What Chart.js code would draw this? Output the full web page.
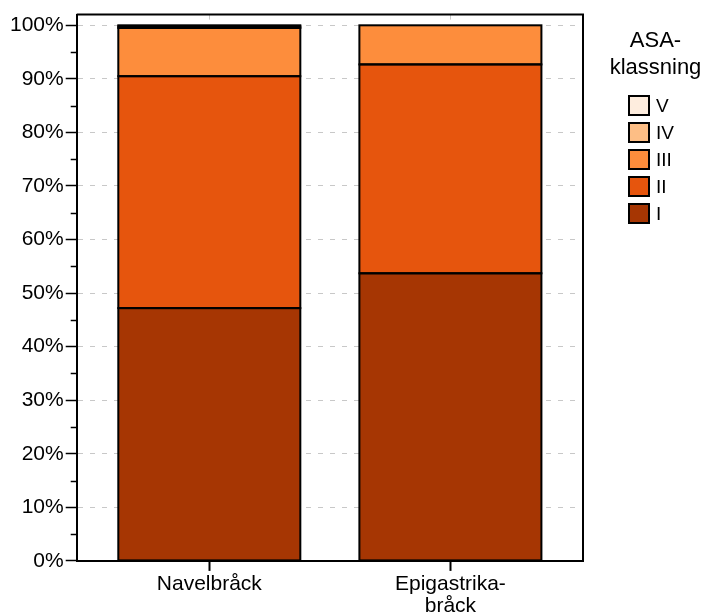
<!DOCTYPE html>
<html>
<head>
<meta charset="utf-8">
<script src="https://cdn.jsdelivr.net/npm/chart.js@4/dist/chart.umd.min.js"></script>
<style>
  body { margin: 0; background: #fff; font-family: "Liberation Sans", Arial, sans-serif; }
  #wrap { position: relative; width: 705px; height: 615px; overflow: hidden; }
  #legend { position: absolute; left: 600px; top: 26px; width: 105px; color: #000; }
  #legend .title { text-align: center; font-size: 22px; line-height: 27px; margin-left: 6px; }
  #legend ul { list-style: none; margin: 12px 0 0 28px; padding: 0; }
  #legend li { height: 27px; display: flex; align-items: center; font-size: 19px; }
  #legend li span.box { display: inline-block; width: 18px; height: 17px; border: 2px solid #000; margin-right: 6px; }
</style>
</head>
<body>
<div id="wrap">
  <canvas id="chart" width="705" height="615"></canvas>
  <div id="legend"></div>
</div>
<script>
// Data
const categories = ['Navelbråck', ['Epigastrika-', 'bråck']];
const classI   = [47.2, 53.7];
const classII  = [43.3, 39.0];
const classIII = [9.0, 7.3];
const classIV  = [0.3, 0];
const classV   = [0.2, 0];
const yTickValues = [0, 10, 20, 30, 40, 50, 60, 70, 80, 90, 100];
const yMinorTicks = [5, 15, 25, 35, 45, 55, 65, 75, 85, 95];
const legendTitle = ['ASA-', 'klassning'];

const seriesList = [
    { label: 'I',   data: classI,   color: '#A63603' },
    { label: 'II',  data: classII,  color: '#E6550D' },
    { label: 'III', data: classIII, color: '#FD8D3C' },
    { label: 'IV',  data: classIV,  color: '#FDBE85' },
    { label: 'V',   data: classV,   color: '#FEEDDE' }
];

const FONT = '"Liberation Sans", Arial, sans-serif';
const GRID = '#c8c8c8';

// svarta konturer runt varje stapelsegment (jämn linjebredd)
const outlinePlugin = {
    id: 'outline',
    afterDatasetsDraw(chart) {
        const ctx = chart.ctx;
        ctx.save();
        ctx.strokeStyle = '#000';
        ctx.lineWidth = 2;
        chart.data.datasets.forEach((ds, i) => {
            chart.getDatasetMeta(i).data.forEach(bar => {
                const h = bar.base - bar.y;
                if (Math.abs(h) < 0.01) return;
                ctx.strokeRect(bar.x - bar.width / 2, bar.y, bar.width, h);
            });
        });
        ctx.restore();
    }
};

// ram runt plotytan + korta mellanstreck på y-axeln
const framePlugin = {
    id: 'frame',
    afterDraw(chart) {
        const { ctx, chartArea } = chart;
        const y = chart.scales.y;
        ctx.save();
        ctx.strokeStyle = '#000';
        ctx.lineWidth = 2;
        ctx.beginPath();
        ctx.moveTo(chartArea.left, chartArea.top);
        ctx.lineTo(chartArea.right, chartArea.top);
        ctx.lineTo(chartArea.right, chartArea.bottom);
        ctx.stroke();
        ctx.lineWidth = 1.5;
        yMinorTicks.forEach(v => {
            const py = Math.round(y.getPixelForValue(v)) + 0.5;
            ctx.beginPath();
            ctx.moveTo(chartArea.left - 6, py);
            ctx.lineTo(chartArea.left, py);
            ctx.stroke();
        });
        ctx.restore();
    }
};

const chart = new Chart(document.getElementById('chart'), {
    type: 'bar',
    data: {
        labels: categories,
        datasets: seriesList.map(s => ({
            label: s.label,
            data: s.data,
            backgroundColor: s.color,
            borderWidth: 0,
            barPercentage: 0.755,
            categoryPercentage: 1
        }))
    },
    options: {
        responsive: false,
        animation: false,
        layout: { padding: { left: 8, right: 122, top: 4, bottom: -4 } },
        plugins: {
            legend: { display: false },
            tooltip: { enabled: false }
        },
        scales: {
            x: {
                stacked: true,
                offset: true,
                afterBuildTicks: scale => {
                    // lite extra luft utanför staplarna
                    scale._startValue = -0.55;
                    scale._valueRange = 2.1;
                },
                grid: {
                    offset: false,
                    color: GRID,
                    tickColor: '#000',
                    tickWidth: 2,
                    tickLength: 10
                },
                border: { color: '#000', width: 2, dash: [5, 7] },
                ticks: {
                    color: '#000',
                    font: { family: FONT, size: 21, lineHeight: 1.05 },
                    padding: 2,
                    maxRotation: 0
                }
            },
            y: {
                stacked: true,
                min: 0,
                max: 102,
                afterBuildTicks: scale => {
                    scale.ticks = yTickValues.map(v => ({ value: v }));
                },
                grid: {
                    color: ctx => ctx.tick && ctx.tick.value === 0 ? 'rgba(0,0,0,0)' : GRID,
                    tickColor: '#000',
                    tickWidth: 1.5,
                    tickLength: 11
                },
                border: { color: '#000', width: 2, dash: [5, 7] },
                ticks: {
                    color: '#000',
                    font: { family: FONT, size: 21 },
                    padding: 2,
                    callback: v => v + '%'
                }
            }
        }
    },
    plugins: [outlinePlugin, framePlugin]
});

// Förklaring (omvänd ordning, V överst)
const legendEl = document.getElementById('legend');
legendEl.innerHTML = '<div class="title">' + legendTitle.join('<br>') + '</div>' +
    '<ul>' + seriesList.slice().reverse().map(s =>
        `<li><span class="box" style="background:${s.color}"></span>${s.label}</li>`
    ).join('') + '</ul>';
</script>
</body>
</html>
